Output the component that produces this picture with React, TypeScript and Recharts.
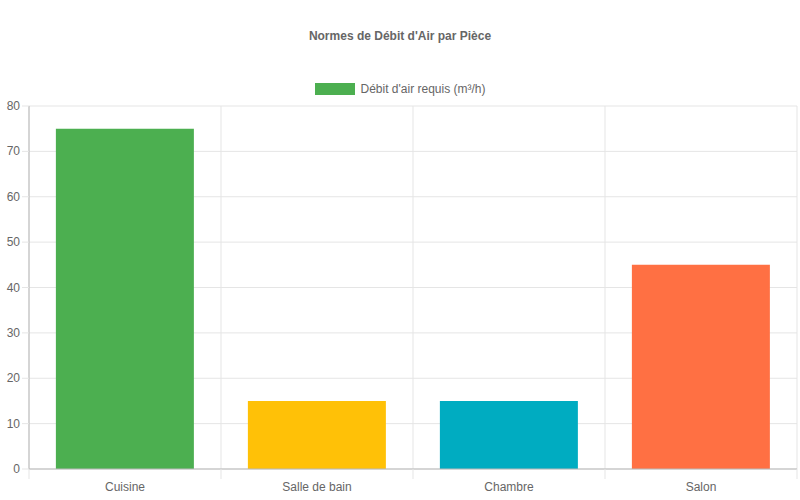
import React from "react";
import { Bar, BarChart, CartesianGrid, Cell, XAxis, YAxis } from "recharts";

// Débit d'air par pièce
const rooms = ["Cuisine", "Salle de bain", "Chambre", "Salon"];
const airflow = [75, 15, 15, 45];
const barColors = ["#4CAF50", "#FFC107", "#00ACC1", "#FF7043"];
const yTicks = [0, 10, 20, 30, 40, 50, 60, 70, 80];

const seriesLabel = "Débit d'air requis (m³/h)";
const title = "Normes de Débit d'Air par Pièce";

const FONT = '"Liberation Sans", Arial, Helvetica, sans-serif';
const GRID = "#e5e5e5";
const AXIS = "#b8b8b8";

const chartData = rooms.map((room, i) => ({ room, value: airflow[i] }));

const RoomTick = (props: any) => {
  const { x, y, payload, index } = props;
  const half = payload?.offset ?? 96;
  const top = y - 8;
  return (
    <g>
      <line x1={x - half} x2={x - half} y1={top} y2={top + 10} stroke={GRID} />
      {index === rooms.length - 1 && (
        <line x1={x + half} x2={x + half} y1={top} y2={top + 10} stroke={GRID} />
      )}
      <text x={x} y={top + 22} textAnchor="middle" fill="#666" fontSize={12} fontFamily={FONT}>
        {payload.value}
      </text>
    </g>
  );
};

const ValueTick = (props: any) => {
  const { x, y, payload } = props;
  return (
    <text x={x} y={y + 4} textAnchor="end" fill="#666" stroke="none" fontSize={12} fontFamily={FONT}>
      {payload.value}
    </text>
  );
};

export default function App() {
  return (
    <div style={{ position: "fixed", left: 0, top: 0, width: 800, height: 500, background: "#fff", fontFamily: FONT }}>
      <div style={{ position: "absolute", top: 29, width: 800, textAlign: "center", fontSize: 12, fontWeight: "bold", color: "#666" }}>
        {title}
      </div>
      <div style={{ position: "absolute", top: 82, width: 800, display: "flex", justifyContent: "center", alignItems: "center", fontSize: 12, color: "#666" }}>
        <span style={{ display: "inline-block", width: 40, height: 12, background: barColors[0], marginRight: 6 }} />
        <span>{seriesLabel}</span>
      </div>
      <BarChart
        width={800}
        height={500}
        data={chartData}
        margin={{ top: 106, right: 3, bottom: 0, left: 0 }}
        barCategoryGap="14%"
      >
        <CartesianGrid
          stroke={GRID}
          verticalCoordinatesGenerator={({ offset }: any) =>
            rooms.map((_, i) => offset.left + (i * offset.width) / rooms.length).concat(offset.left + offset.width)
          }
        />
        <XAxis
          dataKey="room"
          height={31}
          axisLine={{ stroke: AXIS }}
          tickLine={false}
          tick={<RoomTick />}
          interval={0}
        />
        <YAxis
          width={29}
          domain={[0, 80]}
          ticks={yTicks}
          tickSize={7}
          axisLine={{ stroke: AXIS }}
          tickLine={{ stroke: GRID }}
          tick={<ValueTick />}
        />
        <Bar dataKey="value" name={seriesLabel} isAnimationActive={false}>
          {chartData.map((entry, i) => (
            <Cell key={`cell-${entry.room}`} fill={barColors[i % barColors.length]} />
          ))}
        </Bar>
      </BarChart>
    </div>
  );
}
